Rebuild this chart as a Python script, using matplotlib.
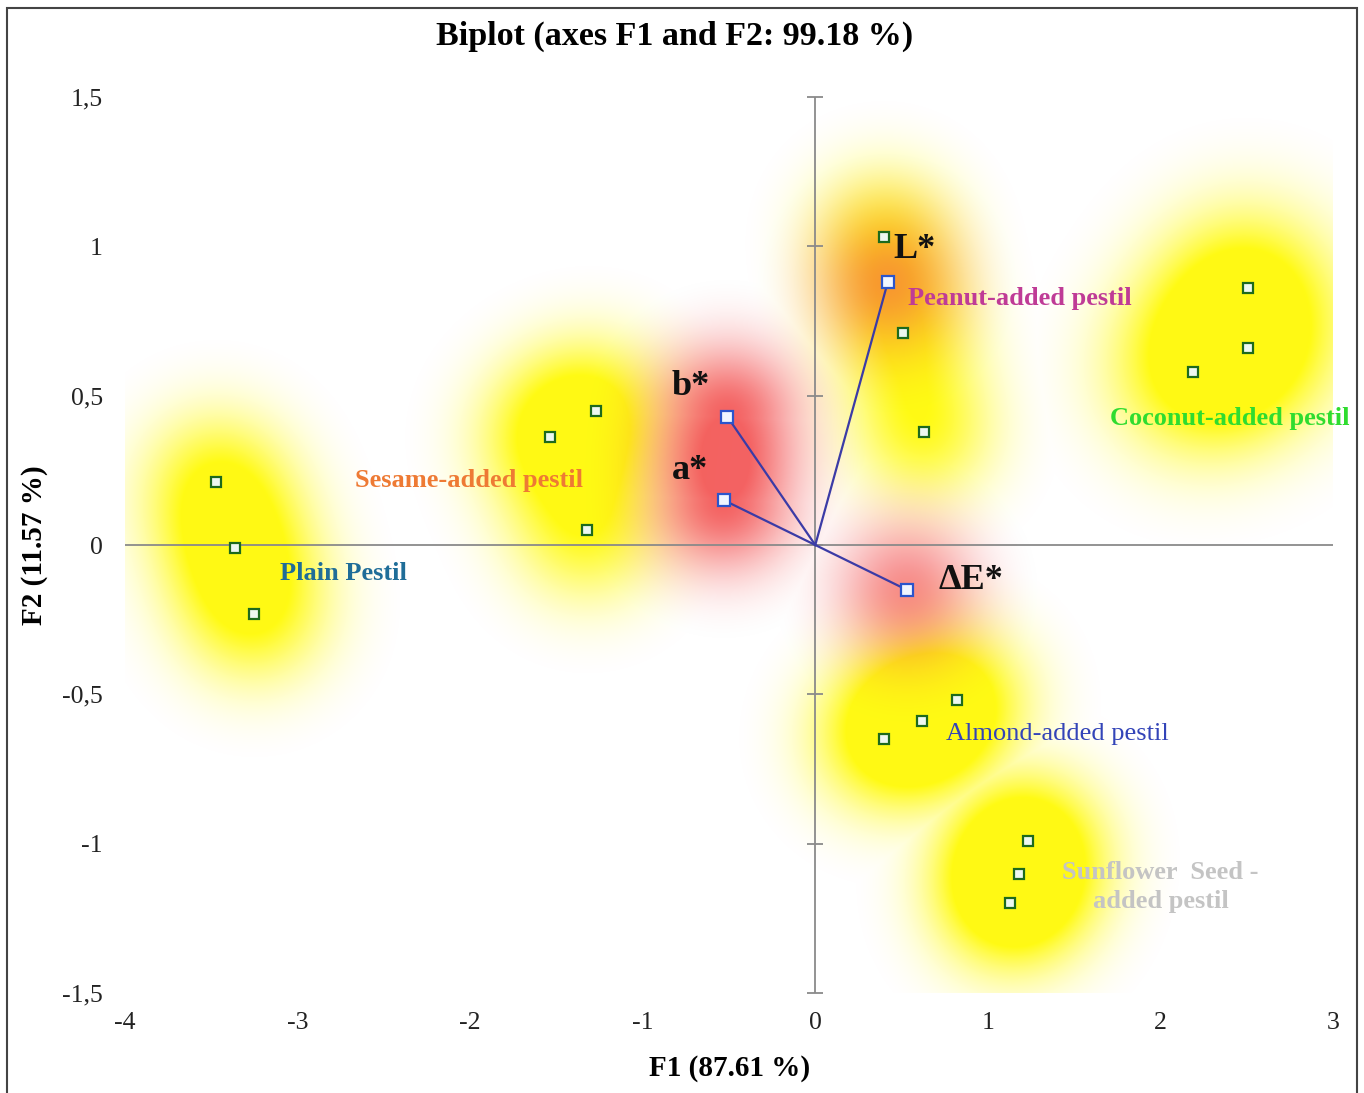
import numpy as np
import matplotlib
matplotlib.use("Agg")
import matplotlib.pyplot as plt
from matplotlib.patches import Rectangle

plt.rcParams['font.family'] = ['Liberation Serif', 'DejaVu Serif']

# observation scores (F1, F2), three replicates per sample
plain_f1 = [-3.47, -3.36, -3.25]
plain_f2 = [0.21, -0.01, -0.23]
sesame_f1 = [-1.27, -1.54, -1.32]
sesame_f2 = [0.45, 0.36, 0.05]
peanut_f1 = [0.40, 0.51, 0.63]
peanut_f2 = [1.03, 0.71, 0.38]
coconut_f1 = [2.51, 2.51, 2.19]
coconut_f2 = [0.86, 0.66, 0.58]
almond_f1 = [0.82, 0.62, 0.40]
almond_f2 = [-0.52, -0.59, -0.65]
sunflower_f1 = [1.23, 1.18, 1.13]
sunflower_f2 = [-0.99, -1.10, -1.20]

# colour variables (loadings)
var_names = ['L*', 'b*', 'a*', 'ΔE*']
var_f1 = [0.42, -0.51, -0.53, 0.53]
var_f2 = [0.88, 0.43, 0.15, -0.15]

x_ticks = [-4, -3, -2, -1, 0, 1, 2, 3]
y_ticks = [-1.5, -1, -0.5, 0, 0.5, 1, 1.5]
y_tick_labels = ['-1,5', '-1', '-0,5', '0', '0,5', '1', '1,5']

groups = [
    ('Plain Pestil', plain_f1, plain_f2, '#1f6d98', 'bold'),
    ('Sesame-added pestil', sesame_f1, sesame_f2, '#ee7a34', 'bold'),
    ('Peanut-added pestil', peanut_f1, peanut_f2, '#bf3b96', 'bold'),
    ('Coconut-added pestil', coconut_f1, coconut_f2, '#2fdc2f', 'bold'),
    ('Almond-added pestil', almond_f1, almond_f2, '#3344b8', 'normal'),
    ('Sunflower  Seed -\nadded pestil', sunflower_f1, sunflower_f2, '#c4c4c4', 'bold'),
]
# label positions (left edge / centre) in data units
group_label_pos = [(-3.10, -0.095), (-2.67, 0.215), (0.54, 0.825),
                   (1.71, 0.425), (0.755, -0.633), (2.0, -1.145)]
glow_sigma = [52, 52, 50, 62, 52, 52]
var_label_pos = [(0.45, 0.99), (-0.83, 0.53), (-0.83, 0.25), (0.715, -0.12)]
var_glow = [(50, 0.55), (50, 0.85), (50, 0.85), (50, 0.62)]

fig = plt.figure(figsize=(13.64, 10.93), dpi=100)
ax = fig.add_axes([125/1364, 1-993/1093, 1208/1364, 896/1093])
ax.set_xlim(-4, 3)
ax.set_ylim(-1.5, 1.5)

# soft glow background
W, H = 1208, 896
gx = np.linspace(-4, 3, W)
gy = np.linspace(-1.5, 1.5, H)
XX, YY = np.meshgrid(gx, gy)
sx, sy = W / 7.0, H / 3.0

def glow(f1, f2, s):
    tot = np.zeros_like(XX)
    for a, b in zip(f1, f2):
        tot += np.exp(-(((XX - a) * sx)**2 + ((YY - b) * sy)**2) / (2 * s**2))
    return tot

ay = np.zeros_like(XX)
for (name, f1, f2, col, wt), s in zip(groups, glow_sigma):
    ay = np.maximum(ay, np.clip(0.85 * glow(f1, f2, s), 0, 1))
ar = np.zeros_like(XX)
for a, b, (s, amax) in zip(var_f1, var_f2, var_glow):
    ar = np.maximum(ar, amax * np.clip(glow([a], [b], s), 0, 1))
# a* and b* share one red patch
ab = glow(var_f1[1:3], var_f2[1:3], 50)
ar = np.maximum(ar, 0.85 * np.clip(0.8 * ab, 0, 1))
# keep the far background pure white
ay = np.clip((ay - 0.02) / 0.98, 0, 1)
ar = np.clip((ar - 0.02) / 0.98, 0, 1)

yellow = np.array([255, 250, 20]) / 255
red = np.array([242, 70, 70]) / 255
rgb = np.ones(XX.shape + (3,)) * (1 - ay[..., None]) + yellow * ay[..., None]
rgb = rgb * (1 - ar[..., None]) + red * ar[..., None]
ax.imshow(rgb, extent=(-4, 3, -1.5, 1.5), origin='lower', aspect='auto',
          interpolation='bilinear', zorder=0)

# axes through the origin
ax.axhline(0, color='#8a8a8a', lw=1.3, zorder=1)
ax.axvline(0, color='#8a8a8a', lw=1.3, zorder=1)
ax.plot(np.zeros(len(y_ticks)), y_ticks, ls='none', marker='_', ms=11,
        mew=1.3, color='#8a8a8a', zorder=1, clip_on=False)

for s in ax.spines.values():
    s.set_visible(False)
ax.set_xticks(x_ticks)
ax.set_xticklabels([str(t) for t in x_ticks])
ax.set_yticks(y_ticks)
ax.set_yticklabels(y_tick_labels)
ax.tick_params(axis='both', length=0, labelsize=18.5, colors='#222222')
ax.tick_params(axis='x', pad=14)
ax.tick_params(axis='y', pad=16)

# observations
for (name, f1, f2, col, wt), (lx, ly) in zip(groups, group_label_pos):
    ax.plot(f1, f2, ls='none', marker='s', ms=7, mfc='#eef8f0', mec='#1d6a1d',
            mew=1.6, zorder=4)
    if name.startswith('Sunflower'):
        ax.text(lx, ly, name, color=col, fontsize=19, fontweight=wt,
                ha='center', va='center', linespacing=1.35, zorder=6)
    else:
        ax.text(lx, ly, name, color=col, fontsize=19, fontweight=wt,
                ha='left', va='center', zorder=6)

# variable vectors
for a, b in zip(var_f1, var_f2):
    ax.plot([0, a], [0, b], color='#3b3ba6', lw=1.6, zorder=3)
ax.plot(var_f1, var_f2, ls='none', marker='s', ms=8, mfc='#f0f6ff',
        mec='#2a55cc', mew=1.6, zorder=5)
for name, (lx, ly) in zip(var_names, var_label_pos):
    ax.text(lx, ly, name, fontsize=26, fontweight='bold', color='#111111',
            ha='left', va='center', zorder=6)

fig.text(675/1364, 1 - 36/1093, 'Biplot (axes F1 and F2: 99.18 %)',
         fontsize=24.5, fontweight='bold', ha='center', va='center')
fig.text(730/1364, 1 - 1069/1093, 'F1 (87.61 %)', fontsize=21,
         fontweight='bold', ha='center', va='center')
fig.text(35/1364, 1 - 545/1093, 'F2 (11.57 %)', fontsize=21,
         fontweight='bold', ha='center', va='center', rotation=90)

fig.add_artist(Rectangle((7/1364, -0.02), 1350/1364, 1.02 - 8/1093,
                         transform=fig.transFigure, fill=False,
                         ec='#444444', lw=1.5))

fig.savefig('out.png', dpi=100)
